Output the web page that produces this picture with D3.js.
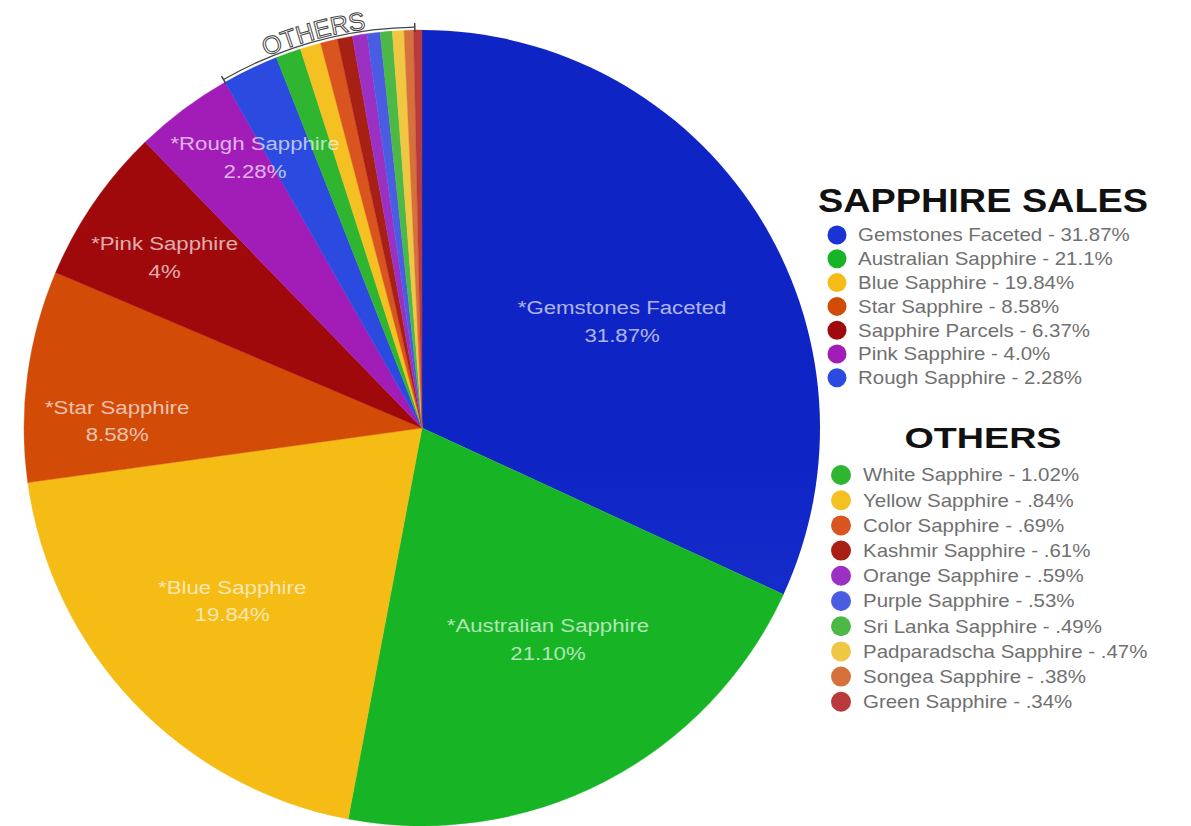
<!DOCTYPE html>
<html>
<head>
<meta charset="utf-8">
<script src="https://cdn.jsdelivr.net/npm/d3@7"></script>
<style>
  body { margin: 0; background: #fff; }
  svg { display: block; font-family: "Liberation Sans", Arial, Helvetica, sans-serif; }
</style>
</head>
<body>
<script>
// Main sapphire categories (clockwise from 12 o'clock)
const mainNames = ["Gemstones Faceted", "Australian Sapphire", "Blue Sapphire", "Star Sapphire",
  "Sapphire Parcels", "Pink Sapphire", "Rough Sapphire"];
const mainValues = [31.87, 21.1, 19.84, 8.58, 6.37, 4.0, 2.28];
const mainLegendText = ["31.87%", "21.1%", "19.84%", "8.58%", "6.37%", "4.0%", "2.28%"];
const mainColors = ["#1a33d4", "#17b425", "#f5bc16", "#d24b07", "#a0090b", "#a21db8", "#2a4ae0"];

// The small ones, grouped as "others"
const otherNames = ["White Sapphire", "Yellow Sapphire", "Color Sapphire", "Kashmir Sapphire",
  "Orange Sapphire", "Purple Sapphire", "Sri Lanka Sapphire", "Padparadscha Sapphire",
  "Songea Sapphire", "Green Sapphire"];
const otherValues = [1.02, 0.84, 0.69, 0.61, 0.59, 0.53, 0.49, 0.47, 0.38, 0.34];
const otherLegendText = ["1.02%", ".84%", ".69%", ".61%", ".59%", ".53%", ".49%", ".47%", ".38%", ".34%"];
const otherColors = ["#30b531", "#f5c022", "#d9541f", "#a81f14", "#9b30c2", "#4a5ce2",
  "#4cb947", "#f0c743", "#d7713b", "#b83a3c"];

// Labels written inside the slices (as printed on the original)
const sliceLabels = [
  ["*Gemstones Faceted", "31.87%"],
  ["*Australian Sapphire", "21.10%"],
  ["*Blue Sapphire", "19.84%"],
  ["*Star Sapphire", "8.58%"],
  ["*Pink Sapphire", "4%"],
  ["*Rough Sapphire", "2.28%"],
  null
];

// Layout
const width = 1191, height = 826;
const cx = 422, cy = 428, radius = 398;
// label placement: radius and angular shift (degrees) from slice mid-angle
const labelPlacement = [
  { r: 228, shift: 4.0 },
  { r: 244, shift: -3.8 },
  { r: 255, shift: 1.7 },
  { r: 305, shift: -5.8 },
  { r: 310, shift: -0.6 },
  { r: 320, shift: 5.4 }
];
const textStretch = 1.17;

const svg = d3.select("body").append("svg")
  .attr("width", width)
  .attr("height", height);

const defs = svg.append("defs");
const grad = defs.append("linearGradient")
  .attr("id", "blueGrad")
  .attr("gradientUnits", "userSpaceOnUse")
  .attr("x1", 0).attr("y1", cy - radius)
  .attr("x2", 0).attr("y2", cy + 180);
grad.append("stop").attr("offset", "0%").attr("stop-color", "#0f24c4");
grad.append("stop").attr("offset", "100%").attr("stop-color", "#2646e2");

const allNames = mainNames.concat(otherNames);
const allValues = mainValues.concat(otherValues);
const color = d3.scaleOrdinal()
  .domain(allNames)
  .range(mainColors.concat(otherColors));

const pieData = allNames.map((n, i) => ({ name: n, value: allValues[i], index: i }));
const pie = d3.pie().sort(null).value(d => d.value);
const arcs = pie(pieData);

const arc = d3.arc().innerRadius(0).outerRadius(radius);

const g = svg.append("g").attr("transform", `translate(${cx},${cy})`);

g.selectAll("path.slice")
  .data(arcs)
  .enter()
  .append("path")
  .attr("class", "slice")
  .attr("d", arc)
  .attr("fill", d => d.index === 0 ? "url(#blueGrad)" : color(d.data.name))
  .attr("stroke", d => d.index === 0 ? "none" : color(d.data.name))
  .attr("stroke-width", 0.4);

// slice labels
arcs.forEach((d, i) => {
  const lab = sliceLabels[i];
  if (!lab) return;
  const p = labelPlacement[i];
  const a = (d.startAngle + d.endAngle) / 2 + p.shift * Math.PI / 180;
  const x = p.r * Math.sin(a);
  const y = -p.r * Math.cos(a);
  const t = g.append("text")
    .attr("transform", `translate(${x},${y}) scale(${textStretch},1)`)
    .attr("text-anchor", "middle")
    .attr("font-size", 19)
    .attr("fill", "#fff")
    .attr("fill-opacity", 0.68);
  t.append("tspan").attr("x", 0).attr("dy", "-0.25em").text(lab[0]);
  t.append("tspan").attr("x", 0).attr("dy", "1.45em").text(lab[1]);
});

// "OTHERS" bracket along the rim, from Rough Sapphire to the end
const bracketStart = arcs[mainNames.length - 1].startAngle;
const bracketEnd = arcs[arcs.length - 1].endAngle - 0.018;
const bracketR = radius + 3;
const bp = d3.path();
bp.arc(0, 0, bracketR, bracketStart - Math.PI / 2, bracketEnd - Math.PI / 2, false);
g.append("path")
  .attr("d", bp.toString())
  .attr("fill", "none")
  .attr("stroke", "#444")
  .attr("stroke-width", 1.3);
[bracketStart, bracketEnd].forEach(a => {
  g.append("line")
    .attr("x1", (bracketR + 4) * Math.sin(a)).attr("y1", -(bracketR + 4) * Math.cos(a))
    .attr("x2", (bracketR - 5) * Math.sin(a)).attr("y2", -(bracketR - 5) * Math.cos(a))
    .attr("stroke", "#444")
    .attr("stroke-width", 1.5);
});
const textR = radius + 5;
const tp = d3.path();
tp.arc(0, 0, textR, bracketStart - Math.PI / 2, bracketEnd - Math.PI / 2, false);
defs.append("path").attr("id", "othersPath")
  .attr("d", tp.toString())
  .attr("transform", `translate(${cx},${cy})`);
svg.append("text")
  .attr("font-size", 25)
  .attr("fill", "#fff")
  .attr("stroke", "#444")
  .attr("stroke-width", 1)
  .append("textPath")
  .attr("href", "#othersPath")
  .attr("startOffset", "50%")
  .attr("text-anchor", "middle")
  .text("OTHERS");

// Legend: main
const legendCenter = 983;
svg.append("text")
  .attr("x", legendCenter).attr("y", 212)
  .attr("text-anchor", "middle")
  .attr("font-size", 33)
  .attr("font-weight", "bold")
  .attr("fill", "#111")
  .attr("textLength", 330)
  .attr("lengthAdjust", "spacingAndGlyphs")
  .text("SAPPHIRE SALES");

const yMain = d3.scalePoint().domain(mainNames).range([235, 235 + 6 * 23.8]);
const mainLegend = svg.append("g");
mainNames.forEach((n, i) => {
  mainLegend.append("circle")
    .attr("cx", 837).attr("cy", yMain(n)).attr("r", 9.5)
    .attr("fill", color(n));
  mainLegend.append("text")
    .attr("transform", `translate(858,${yMain(n)}) scale(${textStretch},1)`)
    .attr("dy", "0.36em")
    .attr("font-size", 17.5)
    .attr("fill", "#707070")
    .text(`${n} - ${mainLegendText[i]}`);
});

// Legend: others
svg.append("text")
  .attr("x", legendCenter).attr("y", 448)
  .attr("text-anchor", "middle")
  .attr("font-size", 30)
  .attr("font-weight", "bold")
  .attr("fill", "#111")
  .attr("textLength", 157)
  .attr("lengthAdjust", "spacingAndGlyphs")
  .text("OTHERS");

const yOther = d3.scalePoint().domain(otherNames).range([475, 475 + 9 * 25.2]);
const otherLegend = svg.append("g");
otherNames.forEach((n, i) => {
  otherLegend.append("circle")
    .attr("cx", 841).attr("cy", yOther(n)).attr("r", 10)
    .attr("fill", color(n));
  otherLegend.append("text")
    .attr("transform", `translate(863,${yOther(n)}) scale(${textStretch},1)`)
    .attr("dy", "0.36em")
    .attr("font-size", 17.5)
    .attr("fill", "#707070")
    .text(`${n} - ${otherLegendText[i]}`);
});
</script>
</body>
</html>
